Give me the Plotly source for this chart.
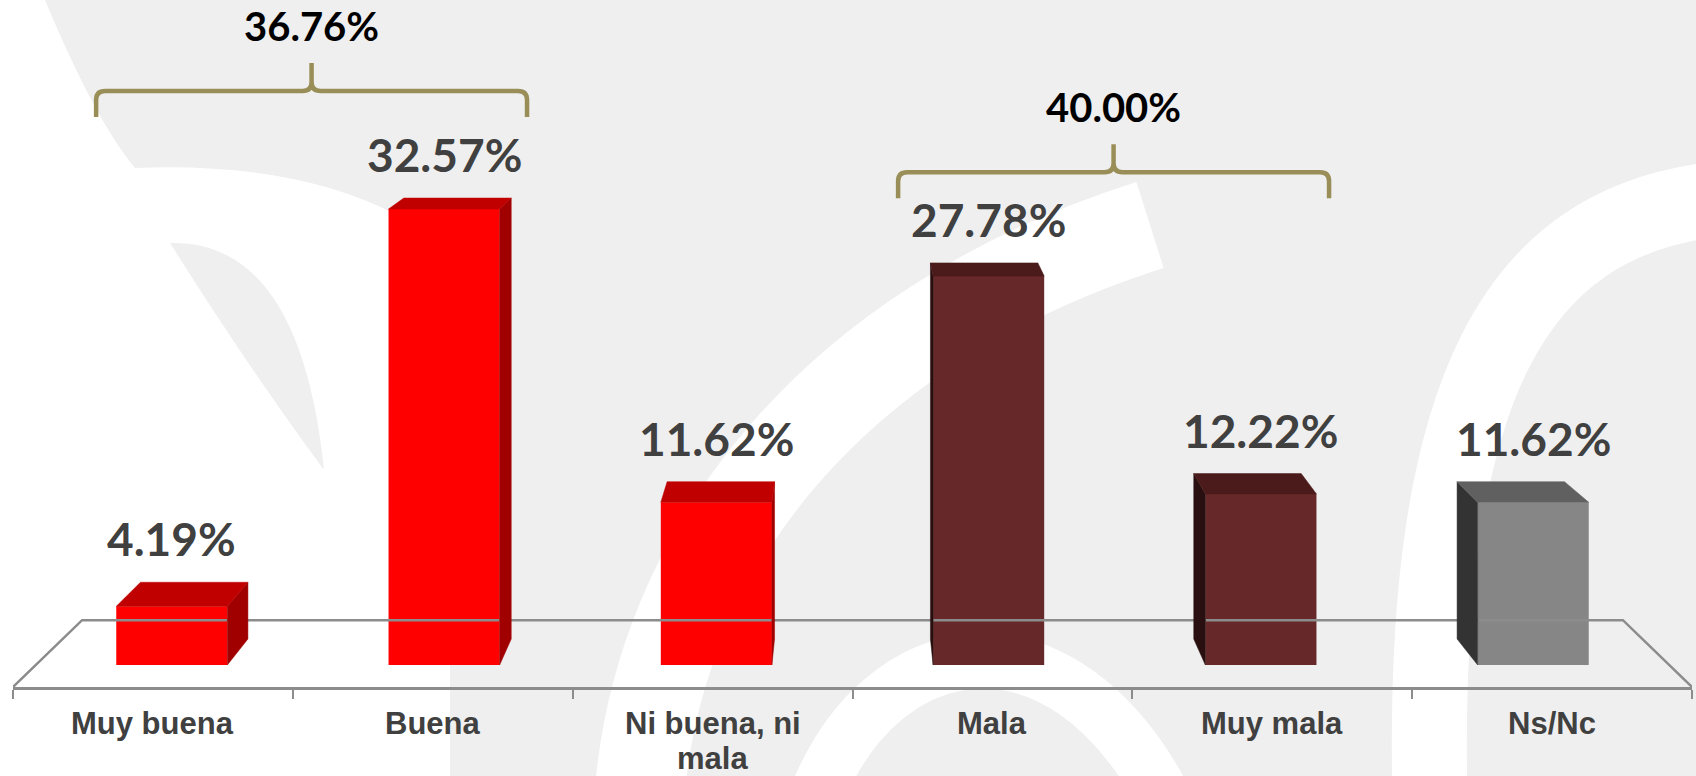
import plotly.graph_objects as go

# ---------------- data ----------------
categories = ["Muy buena", "Buena", "Ni buena, ni<br>mala", "Mala", "Muy mala", "Ns/Nc"]
values = [4.19, 32.57, 11.62, 27.78, 12.22, 11.62]
value_labels = ["4.19%", "32.57%", "11.62%", "27.78%", "12.22%", "11.62%"]
group_members = [[0, 1], [3, 4]]
group_totals = [36.76, 40.00]
group_labels = ["36.76%", "40.00%"]

# ---------------- styles / layout constants ----------------
W, H = 1696, 776
ML, MR, MT, MB = 13, 4, 0, 89
PLOT_W = W - ML - MR
PLOT_H = H - MT - MB
PPU = 14.0            # pixels per percentage point
BASE_PX = 665         # pixel row of value 0 (front face of bars)
Y_LO = -(MT + PLOT_H - BASE_PX) / PPU
Y_HI = (BASE_PX - MT) / PPU

N = len(categories)
XV = (N - 1) / 2.0                   # vanishing point (category units)
YV = (BASE_PX + 125) / PPU           # vanishing point (value units)
S_BAR = 0.0329                       # bar depth
S_FLOOR = 0.0823                     # floor depth
T_FRONT = 0.027                      # bar front plane offset
BAR_HALF = 0.1985
BRACKET_PAD = 0.27
BRACKET_SHIFT = 0.067
BRACKET_LEVEL = [41.0, 35.2]
LINE_GAP = 35

front_col = ["#ff0000", "#ff0000", "#ff0000", "#662828", "#662828", "#868686"]
top_col = ["#c00000", "#c00000", "#c00000", "#4b1a1a", "#4b1a1a", "#606060"]
side_col = ["#a00000", "#a00000", "#a00000", "#290f0f", "#290f0f", "#333333"]
floor_col = "#8c8c8c"
bracket_col = "#9a8e58"
bg = "#efefef"


def back(x, y, s):
    return x + s * (XV - x), y + s * (YV - y)


fig = go.Figure()

# floor (back edge + sides); front edge is the x axis line
fl = [(-0.5, Y_LO), back(-0.5, Y_LO, S_FLOOR), back(N - 0.5, Y_LO, S_FLOOR), (N - 0.5, Y_LO)]
fig.add_trace(go.Scatter(x=[p[0] for p in fl], y=[p[1] for p in fl], mode="lines",
                         line=dict(color=floor_col, width=2.5), hoverinfo="skip",
                         showlegend=False))

centers = [i + T_FRONT * (XV - i) for i in range(N)]

# front faces
fig.add_trace(go.Bar(x=centers, y=values, width=2 * BAR_HALF, base=0,
                     marker=dict(color=front_col, line=dict(width=0)),
                     hoverinfo="skip", showlegend=False))

# side and top faces
for i, v in enumerate(values):
    cx = centers[i]
    xs = cx + BAR_HALF if cx < XV else cx - BAR_HALF
    b1 = back(xs, v, S_BAR)
    b0 = back(xs, 0, S_BAR)
    fig.add_trace(go.Scatter(x=[xs, xs, b1[0], b0[0], xs], y=[0, v, b1[1], b0[1], 0],
                             fill="toself", fillcolor=side_col[i], mode="lines",
                             line=dict(color=side_col[i], width=0.5),
                             hoverinfo="skip", showlegend=False))
    xl, xr = cx - BAR_HALF, cx + BAR_HALF
    bl = back(xl, v, S_BAR)
    br = back(xr, v, S_BAR)
    fig.add_trace(go.Scatter(x=[xl, xr, br[0], bl[0], xl], y=[v, v, br[1], bl[1], v],
                             fill="toself", fillcolor=top_col[i], mode="lines",
                             line=dict(color=top_col[i], width=0.5),
                             hoverinfo="skip", showlegend=False))

annotations = []
# value labels
for i, v in enumerate(values):
    annotations.append(dict(x=centers[i], y=back(centers[i], v, S_BAR)[1], xref="x", yref="y",
                            text=value_labels[i], showarrow=False, yanchor="bottom",
                            xanchor="center", yshift=14,
                            font=dict(family="Lato", size=46, color="#404040", weight=700)))
# category labels (one annotation per text line to control line spacing)
for i, c in enumerate(categories):
    for k, line in enumerate(c.split("<br>")):
        annotations.append(dict(x=i, y=0, xref="x", yref="paper", text=line, showarrow=False,
                                yanchor="top", xanchor="center", yshift=-17 - k * LINE_GAP,
                                font=dict(family="Liberation Sans", size=31, color="#404040",
                                          weight=700)))

shapes = []
# brackets
rx, ry = 9 / (PLOT_W / N), 9 / PPU
drop, peak = 26 / PPU, 28 / PPU
for g, mem in enumerate(group_members):
    c0 = (mem[0] + mem[-1]) / 2.0
    c = c0 + (BRACKET_SHIFT if c0 < XV else -BRACKET_SHIFT)
    hwb = (mem[-1] - mem[0]) / 2.0 + BRACKET_PAD
    xL, xR = c - hwb, c + hwb
    Y = BRACKET_LEVEL[g]
    path = (f"M {xL},{Y - drop} L {xL},{Y - ry} Q {xL},{Y} {xL + rx},{Y} "
            f"L {c - rx},{Y} Q {c},{Y} {c},{Y + ry} L {c},{Y + peak} "
            f"M {c},{Y + ry} Q {c},{Y} {c + rx},{Y} L {xR - rx},{Y} "
            f"Q {xR},{Y} {xR},{Y - ry} L {xR},{Y - drop}")
    shapes.append(dict(type="path", xref="x", yref="y", path=path,
                       line=dict(color=bracket_col, width=4.5)))
    annotations.append(dict(x=c, y=Y + peak, xref="x", yref="y", text=group_labels[g],
                            showarrow=False, yanchor="bottom", xanchor="center", yshift=11,
                            font=dict(family="Lato", size=40, color="#000000", weight=700)))


# watermark (white swooshes on grey background), pixel coords -> paper
def P(px, py):
    return f"{(px - ML) / PLOT_W:.5f},{(MT + PLOT_H - py) / PLOT_H:.5f}"


wm_fill = [
    f"M {P(0,0)} L {P(45,0)} Q {P(95,120)} {P(135,168)} Q {P(340,160)} {P(450,250)} "
    f"L {P(450,776)} L {P(0,776)} Z",
]
wm_grey = [
    f"M {P(170,243)} Q {P(300,240)} {P(324,470)} Q {P(250,370)} {P(170,243)} Z",
]
wm_stroke = [
    (f"M {P(640,790)} C {P(660,560)} {P(820,330)} {P(1150,225)}", 90),
    (f"M {P(1710,200)} C {P(1520,225)} {P(1420,380)} {P(1430,800)}", 75),
    (f"M {P(815,800)} C {P(880,630)} {P(1060,600)} {P(1165,800)}", 55),
]
for p in wm_fill:
    shapes.append(dict(type="path", xref="paper", yref="paper", path=p, layer="below",
                       fillcolor="#ffffff", line=dict(width=0)))
for p in wm_grey:
    shapes.append(dict(type="path", xref="paper", yref="paper", path=p, layer="below",
                       fillcolor=bg, line=dict(width=0)))
for p, w in wm_stroke:
    shapes.append(dict(type="path", xref="paper", yref="paper", path=p, layer="below",
                       fillcolor="rgba(0,0,0,0)", line=dict(color="#ffffff", width=w)))

fig.update_layout(
    width=W, height=H, margin=dict(l=ML, r=MR, t=MT, b=MB, pad=0),
    paper_bgcolor=bg, plot_bgcolor="rgba(0,0,0,0)",
    showlegend=False, annotations=annotations, shapes=shapes,
    xaxis=dict(range=[-0.5, N - 0.5], showgrid=False, zeroline=False, showline=True,
               linecolor=floor_col, linewidth=2.5, ticks="outside", ticklen=9,
               tickwidth=2, tickcolor=floor_col,
               tickvals=[k - 0.5 for k in range(N + 1)], showticklabels=False,
               fixedrange=True),
    yaxis=dict(range=[Y_LO, Y_HI], visible=False, fixedrange=True),
)

fig.write_html("out.html", config={"displayModeBar": False},
               post_script="document.body.style.margin='0';document.body.style.overflow='hidden';")
